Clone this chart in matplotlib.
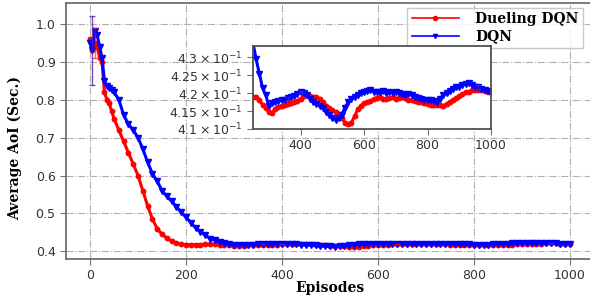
import numpy as np
import matplotlib
matplotlib.use('Agg')
import matplotlib.pyplot as plt

# 数据
episodes = np.array([0, 5, 10, 15, 20, 25, 30, 35, 40, 45, 50] + list(range(60, 1001, 10)))

dueling = [0.96, 0.93, 0.95, 0.94, 0.91, 0.90, 0.82, 0.80, 0.79, 0.77, 0.75,
           0.72, 0.69, 0.66, 0.63, 0.60, 0.56, 0.52, 0.485, 0.46, 0.445,
           0.435, 0.427, 0.422, 0.419, 0.418, 0.418, 0.418, 0.418, 0.419, 0.419,
           0.4188, 0.418, 0.4168, 0.4158, 0.4148, 0.4146, 0.4155, 0.4162, 0.4165, 0.4168,
           0.4170, 0.4172, 0.4175, 0.4178, 0.4185, 0.4192, 0.4194, 0.4193, 0.4190, 0.4189,
           0.4185, 0.4176, 0.4165, 0.4158, 0.4152, 0.4147, 0.4142, 0.4130, 0.4118, 0.4114,
           0.4118, 0.4135, 0.4155, 0.4165, 0.4172, 0.4175, 0.4178, 0.4183, 0.4187, 0.4189,
           0.4185, 0.4183, 0.4186, 0.4188, 0.4184, 0.4187, 0.4190, 0.4186, 0.4182, 0.4180,
           0.4178, 0.4176, 0.4175, 0.4172, 0.4170, 0.4167, 0.4166, 0.4168, 0.4166, 0.4165,
           0.4170, 0.4176, 0.4180, 0.4186, 0.4192, 0.4197, 0.4202, 0.4204, 0.4208, 0.4210,
           0.4210, 0.4209, 0.4206, 0.4204, 0.4203]

dqn = [0.95, 0.93, 0.98, 0.97, 0.94, 0.91, 0.85, 0.835, 0.83, 0.825, 0.82,
       0.80, 0.76, 0.735, 0.72, 0.70, 0.67, 0.635, 0.605, 0.585, 0.56,
       0.545, 0.532, 0.518, 0.503, 0.49, 0.476, 0.462, 0.452, 0.443, 0.434,
       0.4295, 0.4255, 0.4215, 0.4195, 0.4165, 0.4172, 0.4176, 0.4178, 0.4180, 0.4182,
       0.4186, 0.4190, 0.4192, 0.4198, 0.4203, 0.4201, 0.4195, 0.4185, 0.4175, 0.4170,
       0.4165, 0.4158, 0.4148, 0.4140, 0.4130, 0.4125, 0.4130, 0.4140, 0.4160, 0.4175,
       0.4183, 0.4190, 0.4195, 0.4200, 0.4203, 0.4207, 0.4208, 0.4204, 0.4203, 0.4202,
       0.4205, 0.4200, 0.4203, 0.4200, 0.4204, 0.4200, 0.4198, 0.4196, 0.4199, 0.4194,
       0.4190, 0.4187, 0.4185, 0.4182, 0.4180, 0.4180, 0.4178, 0.4176, 0.4185, 0.4195,
       0.4200, 0.4207, 0.4212, 0.4216, 0.4217, 0.4222, 0.4227, 0.4228, 0.4222, 0.4218,
       0.4217, 0.4213, 0.4208, 0.4205, 0.4203]

# 误差棒位置与大小
err_eps_dueling = [10, 640]
err_dueling = [0.04, 0.0003]
err_eps_dqn = [5, 360, 400, 960]
err_dqn = [0.09, 0.0004, 0.0003, 0.0005]

xticks = [0, 200, 400, 600, 800, 1000]
yticks = [0.4, 0.5, 0.6, 0.7, 0.8, 0.9, 1.0]
inset_xticks = [400, 600, 800, 1000]
inset_yticks = [0.41, 0.415, 0.42, 0.425, 0.43]
inset_ylabels = [r'$4.1\times10^{-1}$', r'$4.15\times10^{-1}$', r'$4.2\times10^{-1}$',
                 r'$4.25\times10^{-1}$', r'$4.3\times10^{-1}$']

dueling = np.array(dueling)
dqn = np.array(dqn)
m_du = np.isin(episodes, err_eps_dueling)
m_dq = np.isin(episodes, err_eps_dqn)

label_font = {'family': 'DejaVu Serif', 'weight': 'bold', 'size': 10}
spine_col = '#707070'


def draw_lines(ax, ms, lw):
    ax.plot(episodes, dueling, color='red', marker='o', markersize=ms * 0.8,
            linewidth=lw, label='Dueling DQN')
    ax.plot(episodes, dqn, color='blue', marker='v', markersize=ms,
            linewidth=lw, label='DQN')
    ax.errorbar(episodes[m_du], dueling[m_du], yerr=err_dueling, fmt='none',
                ecolor='red', alpha=0.6, capsize=2.5, elinewidth=1)
    ax.errorbar(episodes[m_dq], dqn[m_dq], yerr=err_dqn, fmt='none',
                ecolor='#5020b0', alpha=0.8, capsize=2.5, elinewidth=1)


fig = plt.figure(figsize=(5.9, 2.97), dpi=100)
ax = fig.add_axes([0.1119, 0.128, 0.895, 0.862])
draw_lines(ax, 4, 2.2)
ax.set_xlim(-50, 1050)
ax.set_ylim(0.38, 1.055)
ax.set_xticks(xticks)
ax.set_yticks(yticks)
ax.tick_params(labelsize=9, color=spine_col, labelcolor='#333333', length=4)
ax.grid(True, linestyle='-.', color='#b0b0b0', linewidth=0.8)
for s in ax.spines.values():
    s.set_color(spine_col)
    s.set_linewidth(1.3)
ax.set_xlabel('Episodes', fontdict=label_font, labelpad=-1)
ax.set_ylabel('Average AoI (Sec.)', fontdict=label_font)
ax.yaxis.set_label_coords(-0.084, 0.434)

leg = ax.legend(loc='upper right', bbox_to_anchor=(583 / 590, 1 - 8 / 297),
                bbox_transform=fig.transFigure, borderaxespad=0,
                prop=label_font, handlelength=3.4, handletextpad=1.2,
                labelspacing=0.25, borderpad=0.3, fancybox=False,
                edgecolor='#c0c0c0', framealpha=0.85)
for h in leg.legend_handles:
    h.set_linewidth(1.2)
    h.set_markersize(3)

# 局部放大图
ax2 = fig.add_axes([0.4288, 0.5657, 0.4034, 0.2795])
draw_lines(ax2, 4, 2.2)
ax2.set_xlim(250, 1000)
ax2.set_ylim(0.41, 0.4332)
ax2.set_xticks(inset_xticks)
ax2.set_yticks(inset_yticks)
ax2.set_yticklabels(inset_ylabels)
ax2.tick_params(labelsize=9, color=spine_col, labelcolor='#333333', length=4)
for s in ax2.spines.values():
    s.set_color('#505050')
    s.set_linewidth(1.3)

fig.savefig('out.png', dpi=100)
